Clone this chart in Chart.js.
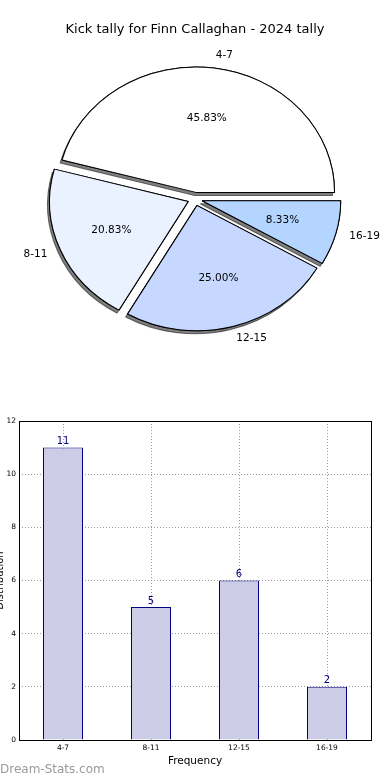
<!DOCTYPE html>
<html>
<head>
<meta charset="utf-8">
<script src="https://cdn.jsdelivr.net/npm/chart.js@4.4.1/dist/chart.umd.min.js"></script>
<style>
  body { margin: 0; background: #fff; width: 390px; height: 780px; overflow: hidden; position: relative; }
  canvas { display: block; }
  #mark { position: absolute; left: 0; top: 762px; font: 12px "DejaVu Sans", sans-serif; color: #9a9a9a; }
</style>
</head>
<body>
<canvas id="pie" width="390" height="390"></canvas>
<canvas id="bars" width="390" height="390"></canvas>
<div id="mark">Dream-Stats.com</div>
<script>
const categories = ["4-7", "8-11", "12-15", "16-19"];
const tallies = [11, 5, 6, 2];
const sliceColours = ["#ffffff", "#eaf1ff", "#c6d8ff", "#b3d5ff"];
const yTicksMax = 12;
const yTickStep = 2;

const font = "\"DejaVu Sans\", sans-serif";
const total = tallies.reduce((a, b) => a + b, 0);

// chart.js draws clockwise, the original goes anticlockwise from 3 o'clock
const pieOrder = [3, 2, 1, 0];
const pieLabels = pieOrder.map(i => categories[i]);
const pieValues = pieOrder.map(i => tallies[i]);
const pieColours = pieOrder.map(i => sliceColours[i]);

const explode = 7;     // px each slice is pulled out
const stretchX = 1.05; // the original pie is a little wider than tall
const stretchY = 0.95;

function stretch(ctx, chart) {
    const a = chart.chartArea;
    const cx = (a.left + a.right) / 2;
    const cy = (a.top + a.bottom) / 2;
    ctx.translate(cx, cy);
    ctx.scale(stretchX, stretchY);
    ctx.translate(-cx, -cy);
}

const pieShape = {
    id: "pieShape",
    beforeDatasetsDraw(chart) {
        const ctx = chart.ctx;
        const arcs = chart.getDatasetMeta(0).data;
        const pass = shadow => arcs.forEach(arc => {
            const mid = (arc.startAngle + arc.endAngle) / 2;
            ctx.save();
            stretch(ctx, chart);
            ctx.translate(Math.cos(mid) * explode, Math.sin(mid) * explode);
            if (shadow) {
                ctx.shadowColor = "rgba(0,0,0,0.5)";
                ctx.shadowOffsetX = -2;
                ctx.shadowOffsetY = 3;
                ctx.shadowBlur = 0;
            }
            arc.draw(ctx);
            ctx.restore();
        });
        pass(true);  // shadows, covered by the plain pass
        pass(false);
        return false;
    }
};

const pieText = {
    id: "pieText",
    afterDraw(chart) {
        const ctx = chart.ctx;
        const meta = chart.getDatasetMeta(0);
        meta.data.forEach((arc, i) => {
            const p = arc.getProps(["x", "y", "startAngle", "endAngle", "outerRadius"], true);
            const mid = (p.startAngle + p.endAngle) / 2;
            const cos = Math.cos(mid);
            const sin = Math.sin(mid);
            const at = k => {
                const d = p.outerRadius * k + explode;
                return [p.x + cos * d * stretchX, p.y + sin * d * stretchY];
            };
            const pct = (pieValues[i] / total * 100).toFixed(2) + "%";

            ctx.save();
            ctx.font = "10.5px " + font;
            ctx.fillStyle = "#000";
            ctx.textBaseline = "middle";
            ctx.textAlign = "center";
            ctx.fillText(pct, ...at(0.6));
            ctx.textAlign = cos >= 0 ? "left" : "right";
            ctx.fillText(pieLabels[i], ...at(1.1));
            ctx.restore();
        });
    }
};

new Chart(document.getElementById("pie"), {
    type: "pie",
    data: {
        labels: pieLabels,
        datasets: [{
            data: pieValues,
            backgroundColor: pieColours,
            borderColor: "#000",
            borderWidth: 1
        }]
    },
    options: {
        responsive: false,
        animation: false,
        rotation: 90,
        radius: 132,
        layout: { padding: { top: 0, bottom: 51, left: 55, right: 55 } },
        plugins: {
            legend: { display: false },
            tooltip: { enabled: false },
            title: {
                display: true,
                text: "Kick tally for Finn Callaghan - 2024 tally",
                color: "#000",
                font: { family: font, size: 13, weight: "normal" },
                padding: { top: 22, bottom: 21.4 }
            }
        }
    },
    plugins: [pieShape, pieText]
});

const barValues = {
    id: "barValues",
    afterDatasetsDraw(chart) {
        const ctx = chart.ctx;
        chart.getDatasetMeta(0).data.forEach((bar, i) => {
            ctx.save();
            ctx.font = "10px " + font;
            ctx.fillStyle = "#000080";
            ctx.textAlign = "center";
            ctx.textBaseline = "bottom";
            ctx.fillText(String(tallies[i]), bar.x, bar.y - 1);
            ctx.restore();
        });
    }
};

const frame = {
    id: "frame",
    afterDraw(chart) {
        const { ctx, chartArea: a } = chart;
        ctx.save();
        ctx.strokeStyle = "#000";
        ctx.lineWidth = 1;
        ctx.strokeRect(Math.round(a.left) + 0.5, Math.round(a.top) + 0.5,
            Math.round(a.right - a.left), Math.round(a.bottom - a.top));
        ctx.restore();
    }
};

new Chart(document.getElementById("bars"), {
    type: "bar",
    data: {
        labels: categories,
        datasets: [{
            data: tallies,
            backgroundColor: "#ccccE6",
            borderColor: "#000080",
            borderWidth: 1,
            categoryPercentage: 1,
            barPercentage: 40 / 88
        }]
    },
    options: {
        responsive: false,
        animation: false,
        layout: { padding: { top: 31, right: 19, left: 0, bottom: 12.5 } },
        plugins: {
            legend: { display: false },
            tooltip: { enabled: false }
        },
        scales: {
            x: {
                offset: true,
                z: 1,
                grid: { offset: false, color: "#9a9a9a", drawTicks: false },
                border: { display: false, dash: [1, 2] },
                ticks: { color: "#000", font: { family: font, size: 7.5 }, padding: 4 },
                title: {
                    display: true,
                    text: "Frequency",
                    color: "#000",
                    font: { family: font, size: 10.5 },
                    padding: { top: 2, bottom: 0 }
                },
                afterFit(scale) { scale.height = 27.5; }
            },
            y: {
                min: 0,
                max: yTicksMax,
                grid: { color: "#9a9a9a", drawTicks: false },
                border: { display: false, dash: [1, 2] },
                ticks: { stepSize: yTickStep, color: "#000", font: { family: font, size: 7.5 }, padding: 3 },
                title: {
                    display: true,
                    text: "Distribution",
                    color: "#000",
                    font: { family: font, size: 10 },
                    padding: { top: -6, bottom: 0 }
                },
                afterFit(scale) { scale.width = 19; }
            }
        }
    },
    plugins: [barValues, frame]
});
</script>
</body>
</html>
